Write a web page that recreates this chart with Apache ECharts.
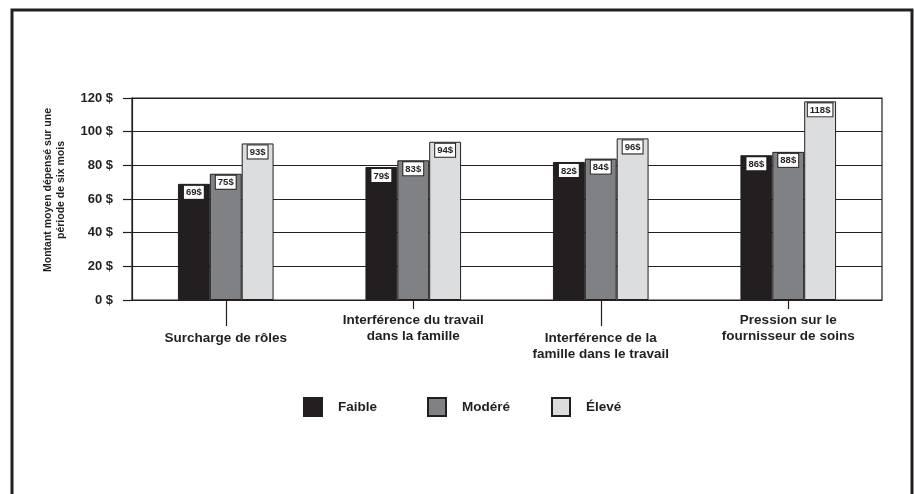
<!DOCTYPE html>
<html>
<head>
<meta charset="utf-8">
<script src="https://cdn.jsdelivr.net/npm/echarts@6/dist/echarts.min.js"></script>
<style>
  html, body { margin: 0; padding: 0; background: #fff; }
  #chart { width: 914px; height: 494px; }
</style>
</head>
<body>
<div id="chart"></div>
<script>
// Dépenses moyennes sur six mois selon le niveau de conflit
const categories = [
  'Surcharge de rôles',
  'Interférence du travail\ndans la famille',
  'Interférence de la\nfamille dans le travail',
  'Pression sur le\nfournisseur de soins'
];
const seriesNames = ['Faible', 'Modéré', 'Élevé'];
const faible = [69, 79, 82, 86];
const modere = [75, 83, 84, 88];
const eleve = [93, 94, 96, 118];
const yTicks = { min: 0, max: 120, step: 20 };

const FONT = '"Liberation Sans", Arial, sans-serif';
const INK = '#231f20';
const colors = ['#231f20', '#808184', '#dcdddf'];

const chart = echarts.init(document.getElementById('chart'));

function barSeries(name, values, color) {
  return {
    name: name,
    type: 'bar',
    xAxisIndex: 0,
    data: values,
    barGap: '0%',
    barCategoryGap: '49%',
    itemStyle: { color: color, borderColor: INK, borderWidth: 1 },
    label: {
      show: true,
      position: 'insideTop',
      distance: 2,
      formatter: '{c}$',
      fontFamily: FONT,
      fontSize: 9.5,
      fontWeight: 'bold',
      color: INK,
      backgroundColor: '#fff',
      borderColor: INK,
      borderWidth: 1,
      padding: [2, 2, 1, 2]
    }
  };
}

function legendAt(left, name) {
  return {
    left: left,
    top: 397,
    padding: 0,
    itemWidth: 18,
    itemHeight: 18,
    icon: 'rect',
    data: [name],
    selectedMode: false,
    textStyle: {
      fontFamily: FONT,
      fontSize: 13.5,
      fontWeight: 'bold',
      color: INK,
      padding: [0, 0, 0, 11]
    }
  };
}

function categoryAxis(even, tickLen, margin, showLine) {
  const pick = (i) => (i % 2 === 0) === even;
  return {
    type: 'category',
    data: categories,
    position: 'bottom',
    axisLine: { show: showLine, lineStyle: { color: INK, width: 1.2 } },
    axisTick: {
      show: true,
      alignWithLabel: true,
      length: tickLen,
      interval: pick,
      lineStyle: { color: INK, width: 1.2 }
    },
    axisLabel: {
      interval: pick,
      margin: margin,
      fontFamily: FONT,
      fontSize: 13.5,
      fontWeight: 'bold',
      lineHeight: 16,
      color: INK
    },
    splitLine: { show: false }
  };
}

chart.setOption({
  animation: false,
  backgroundColor: '#fff',
  graphic: [{
    type: 'rect',
    shape: { x: 12, y: 10, width: 900, height: 520 },
    style: { fill: null, stroke: INK, lineWidth: 3 },
    silent: true
  }],
  grid: {
    left: 132, top: 98, right: 32, bottom: 194,
    show: true, borderColor: INK, borderWidth: 1.2
  },
  legend: [
    legendAt(303, seriesNames[0]),
    legendAt(427, seriesNames[1]),
    legendAt(551, seriesNames[2])
  ],
  xAxis: [
    categoryAxis(true, 26, 30, true),
    categoryAxis(false, 9, 12, false)
  ],
  yAxis: {
    type: 'value',
    min: yTicks.min,
    max: yTicks.max,
    interval: yTicks.step,
    name: 'Montant moyen dépensé sur une\npériode de six mois',
    nameLocation: 'middle',
    nameRotate: 90,
    nameGap: 64,
    nameTextStyle: {
      fontFamily: FONT,
      fontSize: 10.5,
      fontWeight: 'bold',
      lineHeight: 13,
      color: INK,
      padding: [0, 0, 0, 18]
    },
    axisLine: { show: true, lineStyle: { color: INK, width: 1.2 } },
    axisTick: { show: true, length: 9, lineStyle: { color: INK, width: 1.2 } },
    axisLabel: {
      margin: 19,
      formatter: '{value} $',
      fontFamily: FONT,
      fontSize: 13,
      fontWeight: 'bold',
      color: INK
    },
    splitLine: { show: true, lineStyle: { color: INK, width: 1.2 } }
  },
  series: [
    barSeries(seriesNames[0], faible, colors[0]),
    barSeries(seriesNames[1], modere, colors[1]),
    barSeries(seriesNames[2], eleve, colors[2])
  ]
});
</script>
</body>
</html>
